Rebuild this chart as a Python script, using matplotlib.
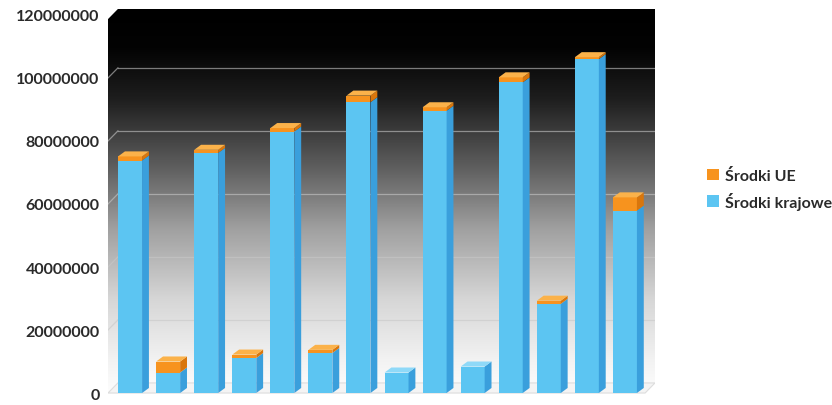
import numpy as np
import matplotlib
matplotlib.use('Agg')
import matplotlib.pyplot as plt
from matplotlib.patches import Polygon, Patch
from matplotlib.colors import LinearSegmentedColormap

# values (PLN)
srodki_krajowe = [73800000, 6500000, 76200000, 11100000, 83000000, 12700000, 92300000,
                  6500000, 89600000, 8400000, 98600000, 28300000, 106000000, 57900000]
srodki_ue = [1300000, 3500000, 1000000, 1100000, 1100000, 1000000, 2100000,
             0, 1100000, 0, 1600000, 1000000, 600000, 4200000]
legend_labels = ['Środki UE', 'Środki krajowe']
y_ticks = [0, 20000000, 40000000, 60000000, 80000000, 100000000, 120000000]

BLUE = '#5cc5f2'
BLUE_SIDE = '#3a9fdc'
BLUE_TOP = '#8fd9f8'
ORANGE = '#f7931e'
ORANGE_SIDE = '#d9760c'
ORANGE_TOP = '#fbb24a'

x0, x1 = -0.58, 13.79
y0, y1 = -1.9e6, 121.9e6
wall_dx, wall_dy = 0.26, 3.2e6   # depth of the box
bar_dx, bar_dy = 0.18, 1.6e6     # depth of one bar
w = 0.63

fig = plt.figure(figsize=(8.32, 4.06), dpi=100)
ax = fig.add_axes([108 / 832, 6 / 406, 547 / 832, 390 / 406])
ax.set_xlim(x0, x1)
ax.set_ylim(y0, y1)

# back + left wall with the black-to-white gradient
cmap = LinearSegmentedColormap.from_list('wall', [
    (0.0, '#ffffff'), (0.1, '#f2f2f2'), (0.256, '#d6d6d6'), (0.436, '#a0a0a0'),
    (0.59, '#606060'), (0.77, '#1e1e1e'), (0.9, '#030303'), (1.0, '#000000')])
grad = np.linspace(0, 1, 256).reshape(-1, 1)
img = ax.imshow(grad, cmap=cmap, extent=[x0, x1, y0, y1], aspect='auto',
                origin='lower', zorder=0)
box = Polygon([(x0, 0), (x0, y1 - wall_dy), (x0 + wall_dx, y1), (x1, y1),
               (x1, wall_dy), (x1 - wall_dx, 0)], closed=True,
              transform=ax.transData, facecolor='none', edgecolor='none')
ax.add_patch(box)
img.set_clip_path(box)

# floor
floor = Polygon([(x0, 0), (x1 - wall_dx, 0), (x1, wall_dy), (x0 + wall_dx, wall_dy)],
                closed=True, facecolor='#f4f4f4', edgecolor='#dddddd', lw=0.8, zorder=1)
ax.add_patch(floor)

# gridlines on the walls
for v in y_ticks[1:-1]:
    ax.plot([x0 + wall_dx, x1], [v + wall_dy, v + wall_dy], color='#c8c8c8',
            lw=0.9, alpha=0.6, zorder=1)
    ax.plot([x0, x0 + wall_dx], [v, v + wall_dy], color='#c8c8c8',
            lw=0.9, alpha=0.6, zorder=1)

# bars: front faces
xs = np.arange(len(srodki_krajowe))
kraj = np.array(srodki_krajowe, dtype=float)
ue = np.array(srodki_ue, dtype=float)
ax.bar(xs, kraj, width=w, color=BLUE, zorder=3, linewidth=0)
ax.bar(xs, ue, width=w, bottom=kraj, color=ORANGE, zorder=3, linewidth=0)

# bars: sides and tops
for x, k, u in zip(xs, kraj, ue):
    r = x + w / 2
    l = x - w / 2
    ax.add_patch(Polygon([(r, 0), (r + bar_dx, bar_dy), (r + bar_dx, k + bar_dy), (r, k)],
                         closed=True, facecolor=BLUE_SIDE, edgecolor='none', zorder=3))
    top_col = BLUE_TOP
    if u > 0:
        ax.add_patch(Polygon([(r, k), (r + bar_dx, k + bar_dy), (r + bar_dx, k + u + bar_dy),
                              (r, k + u)], closed=True, facecolor=ORANGE_SIDE,
                             edgecolor='none', zorder=3))
        top_col = ORANGE_TOP
    t = k + u
    ax.add_patch(Polygon([(l, t), (r, t), (r + bar_dx, t + bar_dy), (l + bar_dx, t + bar_dy)],
                         closed=True, facecolor=top_col, edgecolor='none', zorder=3))

for s in ax.spines.values():
    s.set_visible(False)
ax.set_xticks([])
ax.set_yticks(y_ticks)
ax.set_yticklabels([str(v) for v in y_ticks], fontfamily='Lato', fontweight='bold',
                   fontsize=11.5, color='#2a2a2a')
ax.tick_params(axis='y', length=0, pad=6)

handles = [Patch(facecolor=ORANGE, edgecolor='none'), Patch(facecolor=BLUE, edgecolor='none')]
fig.legend(handles, legend_labels, loc='center left', bbox_to_anchor=(0.832, 0.532),
           frameon=False, handlelength=0.75, handleheight=0.75, handletextpad=0.4,
           labelspacing=0.55, prop={'family': 'Lato', 'size': 11.5, 'weight': 'bold'},
           labelcolor='#2a2a2a')

fig.savefig('out.png', dpi=100)
